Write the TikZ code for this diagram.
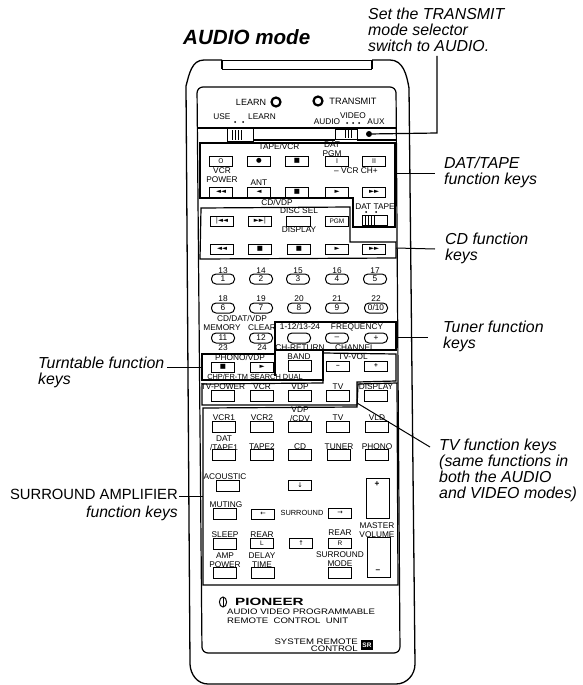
\documentclass[tikz,border=0pt]{standalone}
\usepackage{fontspec}
\setmainfont{Liberation Sans}
\newfontfamily\symfont{DejaVu Sans}
\usetikzlibrary{arrows.meta,positioning,calc}
\tikzset{
  lbl/.style={inner sep=0pt,font=\fontsize{8.3}{9}\selectfont,align=center},
  btn/.style={draw,line width=1pt,inner sep=0pt,minimum width=23pt,minimum height=10pt,
    font=\symfont\fontsize{6.5}{7}\selectfont},
  pill/.style={btn,rounded corners=4.5pt,font=\fontsize{8.3}{9}\selectfont},
  tbtn/.style={btn,minimum height=11pt},
  bigkey/.style={draw,line width=1pt,inner sep=0pt,minimum width=23pt,minimum height=40pt},
  callout/.style={inner sep=0pt,anchor=west,align=left,
    font=\fontsize{15.9}{16}\selectfont\itshape},
  frameline/.style={line width=1.2pt},
  lead/.style={line width=1pt},
  slide/.style={draw,line width=1pt,inner sep=0pt},
  dot/.style={circle,fill,inner sep=0pt,minimum size=2pt},
}
\begin{document}
\begin{tikzpicture}[x=1pt,y=-1pt]
  \useasboundingbox (0,0) rectangle (583,685);

  \node[inner sep=0pt,anchor=west,font=\fontsize{20.6}{22}\selectfont\bfseries\itshape]
    (title) at (183,37) {AUDIO mode};
  \node[callout] (noteTx) at (368,30) {Set the TRANSMIT\\mode selector\\switch to AUDIO.};
  \node[callout] (noteDat) at (444,172) {DAT/TAPE\\function keys};
  \node[callout] (noteCd) at (445,248) {CD function\\keys};
  \node[callout] (noteTun) at (443,336) {Tuner function\\keys};
  \node[callout] (noteTv) at (439,470) {TV function keys\\(same functions in\\both the AUDIO\\and VIDEO modes)};
  \node[callout] (noteTurn) at (38,372) {Turntable function\\keys};
  \node[inner sep=0pt,anchor=east,font=\fontsize{14.8}{16}\selectfont] (noteSur) at (178,494) {SURROUND AMPLIFIER};
  \node[inner sep=0pt,anchor=east,font=\fontsize{15.7}{16}\selectfont\itshape] (noteSurb) at (178,513) {function keys};

  % casing
  \draw[line width=1.3pt] (222,60) -- (204,60) to[out=180,in=75] (186,86)
    -- (190,664) to[out=-88,in=180] (208,684) -- (396,684) to[out=0,in=-90] (415,664)
    -- (409,88) to[out=100,in=0] (390,60) -- (372,60);
  \draw[line width=1.8pt] (222,60) -- (222,69);
  \draw[line width=1.8pt] (372,60) -- (372,69);
  \draw[line width=0.9pt] (222,69) -- (372,69);
  \draw[line width=0.9pt] (222,60) -- (372,60);
  \draw[frameline,rounded corners=6pt] (197,87) -- (396,87) -- (400,653) -- (202,653) -- cycle;

  % top switches
  \node[lbl,font=\fontsize{9}{9}\selectfont] (learnT) at (251,102) {LEARN};
  \node[circle,draw,line width=2.2pt,minimum size=9pt,inner sep=0pt] (learnO) at (276,102) {};
  \node[circle,draw,line width=2.2pt,minimum size=9pt,inner sep=0pt] (txO) at (318,101) {};
  \node[lbl,font=\fontsize{9.2}{9}\selectfont] (txT) at (353,101) {TRANSMIT};
  \node[lbl] (useT) at (222,117) {USE};
  \node[lbl] (useL) at (262,117) {LEARN};
  \node[dot] (useA) at (235,122) {};
  \node[dot] (useB) at (243,122) {};
  \node[lbl] (modeV) at (353,116) {VIDEO};
  \node[lbl] (modeA) at (327,122) {AUDIO};
  \node[lbl] (modeX) at (376,122) {AUX};
  \foreach \x in {347,353,359} \node[dot] (modeD\x) at (\x,123) {};
  \draw[frameline] (197,128) -- (396,128);
  \draw[frameline] (253,140) -- (335,140);
  \draw[frameline] (357,140) -- (396,140);
  \node[slide,minimum width=26pt,minimum height=13pt] (swUse) at (240,134.5) {};
  \node[slide,fill=white,minimum width=22pt,minimum height=10pt] (swMode) at (346,134) {};
  \foreach \x in {232,235,238,241} \draw[line width=0.8pt] (\x,130) -- (\x,140);
  \foreach \x in {345,348,351} \draw[line width=0.8pt] (\x,130) -- (\x,138);

  % function frames
  \draw[frameline] (200,143) -- (395,143) -- (395,227) -- (353,227) -- (353,198) -- (200,198) -- cycle;
  \draw[frameline] (201,208) -- (350,207) -- (350,242) -- (396,242) -- (396,258) -- (200,259) -- cycle;
  \draw[frameline] (275,322) -- (396,322) -- (396,350) -- (323,350) -- (323,380) -- (202,380) -- (202,354) -- (275,354) -- cycle;
  \draw[frameline] (275,350) -- (323,350);
  \draw[frameline] (275,354) -- (275,376);
  \draw[frameline] (323,353) -- (396,354) -- (396,381) -- (357,382) -- (357,405) -- (202,405) -- (202,384) -- (323,383) -- cycle;
  \draw[frameline] (203,408) -- (357,407) -- (358,384) -- (397,383) -- (398,585) -- (203,585) -- cycle;

  % tape and cd keys
  \node[lbl] at (279,147) (tTape) {TAPE/VCR};
  \node[lbl] at (332,149.5) (tPgm) {DAT\\PGM};
  \node[lbl] at (356,171) (tCh) {-- VCR CH+};
  \node[lbl] at (222,175) (tVcrp) {VCR\\POWER};
  \node[lbl] at (259,183) (tAnt) {ANT};
  \node[lbl] at (277,203) (tCdv) {CD/VDP};
  \node[lbl] at (299,211) (tDisc) {DISC SEL};
  \node[lbl] at (375,207) (tDat) {DAT TAPE};
  \node[lbl] at (299,230) (tDisp) {DISPLAY};
  \node[dot] (datA) at (366,212) {};
  \node[dot] (datB) at (376,212) {};
  \node[slide,minimum width=25pt,minimum height=10pt] (swDat) at (374.5,220) {};
  \foreach \x in {365,368,371,374} \draw[line width=0.8pt] (\x,216) -- (\x,225);

  \foreach \x/\y/\nm/\txt in {221/161/a/O,259/161/b/●,297/161/c/■,337/161/d/I,374/161/e/II,
      221/192/f/◄◄,259/192/g/◄,297/192/h/■,337/192/i/►,374/192/j/►►,
      222/221/k/|◄◄,260/221/l/►►|,
      222/249/m/◄◄,260/249/n/■,299/249/o/■,337/249/p/►,374/249/q/►►}
    \node[btn] (key\nm) at (\x,\y) {\txt};
  \node[btn,minimum width=24pt] (keyDisc) at (298,221) {};
  \node[btn,font=\fontsize{6.5}{7}\selectfont] (keyPgm) at (337,221) {PGM};

  % number keys
  \foreach \x/\n/\top in {223/1/13,261/2/14,298/3/15,337/4/16,375/5/17} {
    \node[pill] (num\n) at (\x,279) {\n};
    \node[lbl] (numT\n) at (\x,271) {\top};
  }
  \foreach \x/\n/\top in {223/6/18,261/7/19,299/8/20,337/9/21,376/0\slash10/22} {
    \node[pill] (num\top) at (\x,308) {\n};
    \node[lbl] (numT\top) at (\x,299) {\top};
  }
  \node[lbl] (tMulti) at (242,319) {CD/DAT/VDP};
  \node[lbl] (tMem) at (222,328) {MEMORY};
  \node[lbl] (tClr) at (262,328) {CLEAR};
  \node[lbl] (tBank) at (300,327) {1-12/13-24};
  \node[lbl] (tFreq) at (357,327) {FREQUENCY};
  \foreach \x/\nm/\txt in {223/a/11,261/b/12,299/c/,337/d/--,376/e/+}
    \node[pill] (mem\nm) at (\x,338) {\txt};
  \node[lbl] (t23) at (223,348) {23};
  \node[lbl] (t24) at (262,348) {24};
  \node[lbl] (tRet) at (300,348) {CH-RETURN};
  \node[lbl] (tChan) at (355,348) {CHANNEL};

  % turntable, band, tv
  \node[lbl] (tPho) at (240,358) {PHONO/VDP};
  \node[lbl] (tBand) at (299,357) {BAND};
  \node[lbl] (tVol) at (353,357) {TV-VOL};
  \node[btn] (keyPho) at (223,367) {■};
  \node[btn] (keyVdp) at (262,367) {►};
  \node[tbtn] (keyBand) at (300,366) {};
  \node[btn] (keyVd) at (338,366) {\normalfont\bfseries --};
  \node[btn] (keyVu) at (376,366) {\normalfont\bfseries +};
  \node[lbl,font=\fontsize{7.4}{8}\selectfont] (tChp) at (255,377) {CHP/FR-TM SEARCH DUAL};
  \foreach \x/\nm/\txt in {223/a/TV-POWER,262/b/VCR,300/c/VDP,338/d/TV,376/e/DISPLAY} {
    \node[lbl] (tv\nm T) at (\x,387) {\txt};
    \node[tbtn] (tv\nm) at (\x,396) {};
  }

  % amplifier keys
  \foreach \x/\nm/\txt in {224/a/VCR1,262/b/VCR2,338/d/TV,377/e/VLD} {
    \node[lbl] (in\nm T) at (\x,418) {\txt};
  }
  \node[lbl] (incT) at (300,414) {VDP\\/CDV};
  \foreach \x/\nm in {224/a,262/b,300/c,338/d,377/e}
    \node[tbtn] (in\nm) at (\x,427) {};
  \node[lbl] (srcaT) at (224,443.5) {DAT\\/TAPE1};
  \foreach \x/\nm/\txt in {262/b/TAPE2,300/c/CD,339/d/TUNER,377/e/PHONO}
    \node[lbl] (src\nm T) at (\x,447) {\txt};
  \foreach \x/\nm in {224/a,262/b,300/c,339/d,377/e}
    \node[tbtn] (src\nm) at (\x,455) {};

  \node[lbl] (tAco) at (225,477) {ACOUSTIC};
  \node[tbtn] (keyAco) at (228,486) {};
  \node[btn] (keyDown) at (300,485) {↓};
  \node[bigkey] (keyUpVol) at (377.5,498) {};
  \node[lbl,font=\bfseries\fontsize{8.3}{9}\selectfont] (tPlus) at (377,484) {+};
  \node[lbl] (tMut) at (226,505) {MUTING};
  \node[tbtn] (keyMut) at (225,514) {};
  \node[btn] (keyLeft) at (263,514) {←};
  \node[lbl,font=\fontsize{7.4}{8}\selectfont] (tSur) at (302,513) {SURROUND};
  \node[btn] (keyRight) at (340,513) {→};
  \node[lbl] (tMas) at (377,530) {MASTER\\VOLUME};
  \node[lbl] (tSle) at (225,535) {SLEEP};
  \node[tbtn] (keySle) at (225,544) {};
  \node[lbl] (tRearL) at (262,535) {REAR};
  \node[btn] (keyL) at (262,543) {\normalfont L};
  \node[btn] (keyUp) at (301,543) {↑};
  \node[lbl] (tRearR) at (340,533) {REAR};
  \node[btn] (keyR) at (340,543) {\normalfont R};
  \node[bigkey] (keyDnVol) at (378.5,557) {};
  \node[lbl,font=\bfseries\fontsize{8.3}{9}\selectfont] (tMin) at (378,571) {--};
  \node[lbl] (tAmp) at (225,560) {AMP\\POWER};
  \node[lbl] (tDel) at (262,560) {DELAY\\TIME};
  \node[lbl] (tMod) at (340,559.5) {SURROUND\\MODE};
  \foreach \x/\nm in {225/a,263/b,340/c}
    \node[tbtn] (low\nm) at (\x,573) {};

  % maker plate
  \draw[line width=1pt] (223,602) ellipse (3.6 and 5);
  \draw[line width=1pt] (223,597) -- (223,607);
  \node[inner sep=0pt,anchor=west,font=\bfseries\fontsize{10.5}{11}\selectfont] (brand) at (235,602)
    {\scalebox{1.45}[1]{PIONEER}};
  \node[lbl,anchor=west,font=\fontsize{8}{9}\selectfont] (plateA) at (227,612) {\scalebox{1.2}[1]{AUDIO VIDEO PROGRAMMABLE}};
  \node[lbl,anchor=west,font=\fontsize{8}{9}\selectfont] (plateB) at (227,621) {\scalebox{1.2}[1]{REMOTE\ \ CONTROL\ \ UNIT}};
  \node[lbl,anchor=east,align=right,font=\fontsize{8}{7}\selectfont] (plateC) at (358,645) {\scalebox{1.2}[1]{SYSTEM REMOTE}\\\scalebox{1.2}[1]{CONTROL}};
  \node[fill=black,text=white,inner sep=1pt,minimum size=10pt,font=\bfseries\fontsize{6.5}{7}\selectfont] (plateD) at (367,645) {SR};

  % leaders
  \node[circle,fill,inner sep=0pt,minimum size=6pt] (txdot) at (369,134) {};
  \coordinate (txcorner) at (437,133);
  \coordinate (txend) at (437,56);
  \coordinate (datL) at (396,173);
  \coordinate (datR) at (435,173);
  \coordinate (cdL) at (396,248);
  \coordinate (cdR) at (435,249);
  \coordinate (tunL) at (396,337);
  \coordinate (tunR) at (428,337);
  \coordinate (turnL) at (167,367);
  \coordinate (turnR) at (202,367);
  \coordinate (surL) at (179,496);
  \coordinate (surR) at (203,496);
  \coordinate (tvA) at (357,403);
  \coordinate (tvB) at (430,447);
  \draw[line width=1.2pt] (txdot) -- (txcorner) -- (txend);
  \draw[lead] (datL) -- (datR);
  \draw[lead] (cdL) -- (cdR);
  \draw[lead] (tunL) -- (tunR);
  \draw[lead] (turnL) -- (turnR);
  \draw[lead] (surL) -- (surR);
  \draw[lead] (tvA) -- (tvB);
\end{tikzpicture}
\end{document}
